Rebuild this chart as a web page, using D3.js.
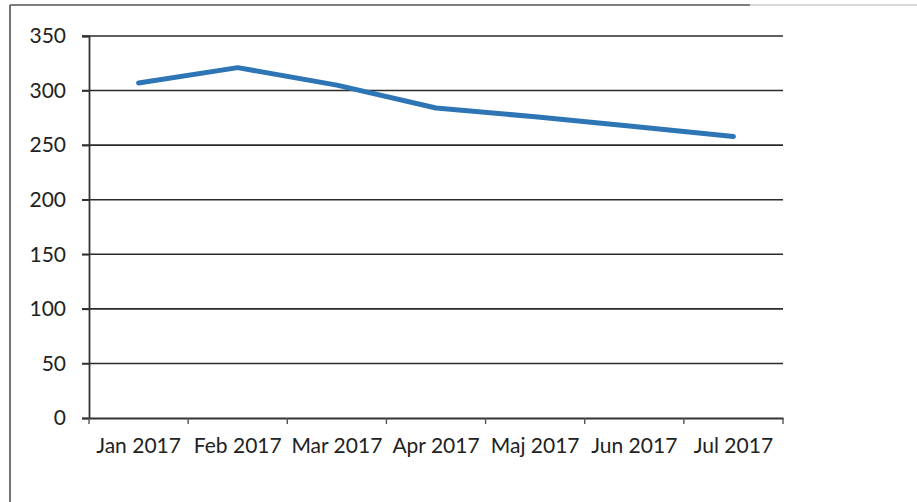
<!DOCTYPE html>
<html>
<head>
<meta charset="utf-8">
<script src="https://cdn.jsdelivr.net/npm/d3@7/dist/d3.min.js"></script>
<style>
  html, body { margin: 0; padding: 0; background: #fff; }
  svg { display: block; }
  text { font-family: Lato, "Open Sans", sans-serif; fill: #222; }
</style>
</head>
<body>
<svg id="chart" width="917" height="502"></svg>
<script>
const categories = ["Jan 2017", "Feb 2017", "Mar 2017", "Apr 2017", "Maj 2017", "Jun 2017", "Jul 2017"];
const values = [307, 321, 305, 284, 276, 267, 258];
const yTicks = [0, 50, 100, 150, 200, 250, 300, 350];

const svg = d3.select("#chart");
const W = 917, H = 502;
const m = { left: 89, right: 134, top: 36, bottom: 84 };
const x = d3.scaleBand().domain(categories).range([m.left, W - m.right]).padding(0);
const y = d3.scaleLinear().domain([0, 350]).range([H - m.bottom, m.top]);

// outer frame (scanned chart border)
svg.append("line").attr("x1", 10).attr("x2", 10).attr("y1", 5).attr("y2", H)
  .attr("stroke", "#444").attr("stroke-width", 1.5);
svg.append("line").attr("x1", 10).attr("x2", 750).attr("y1", 5).attr("y2", 5)
  .attr("stroke", "#555").attr("stroke-width", 1.5);
svg.append("line").attr("x1", 750).attr("x2", 917).attr("y1", 5).attr("y2", 5)
  .attr("stroke", "#ccc").attr("stroke-width", 1.5);

// gridlines
const grid = svg.append("g");
grid.selectAll("line").data(yTicks.filter(d => d > 0)).join("line")
  .attr("x1", m.left - 7).attr("x2", W - m.right)
  .attr("y1", d => y(d)).attr("y2", d => y(d))
  .attr("stroke", "#2a2a2a").attr("stroke-width", 1.6);

// y axis
const yAxis = svg.append("g").attr("transform", `translate(${m.left},0)`)
  .call(d3.axisLeft(y).tickValues(yTicks).tickSize(7).tickPadding(16));
yAxis.select(".domain").attr("stroke", "#333").attr("stroke-width", 1.8);
yAxis.selectAll(".tick line").attr("stroke", "#333").attr("stroke-width", 1.6);
yAxis.selectAll("text").attr("font-size", 21).attr("fill", "#222")
  .style("font-family", "Lato, sans-serif");

// x axis
const xAxis = svg.append("g").attr("transform", `translate(0,${H - m.bottom})`)
  .call(d3.axisBottom(x).tickSize(0).tickPadding(20));
xAxis.select(".domain").attr("stroke", "#333").attr("stroke-width", 1.8);
xAxis.selectAll("text").attr("font-size", 21).attr("fill", "#222")
  .style("font-family", "Lato, sans-serif");
// tick marks at category boundaries
const bounds = categories.map(c => x(c)).concat([x.range()[1]]);
xAxis.selectAll(".bnd").data(bounds).join("line").attr("class", "bnd")
  .attr("x1", d => d).attr("x2", d => d).attr("y1", 0).attr("y2", 6)
  .attr("stroke", "#555").attr("stroke-width", 1.4);

// series line
const line = d3.line()
  .x((d, i) => x(categories[i]) + x.bandwidth() / 2)
  .y(d => y(d));
svg.append("path").datum(values)
  .attr("d", line)
  .attr("fill", "none")
  .attr("stroke", "#2e75b6")
  .attr("stroke-width", 5)
  .attr("stroke-linecap", "round")
  .attr("stroke-linejoin", "round");
</script>
</body>
</html>
